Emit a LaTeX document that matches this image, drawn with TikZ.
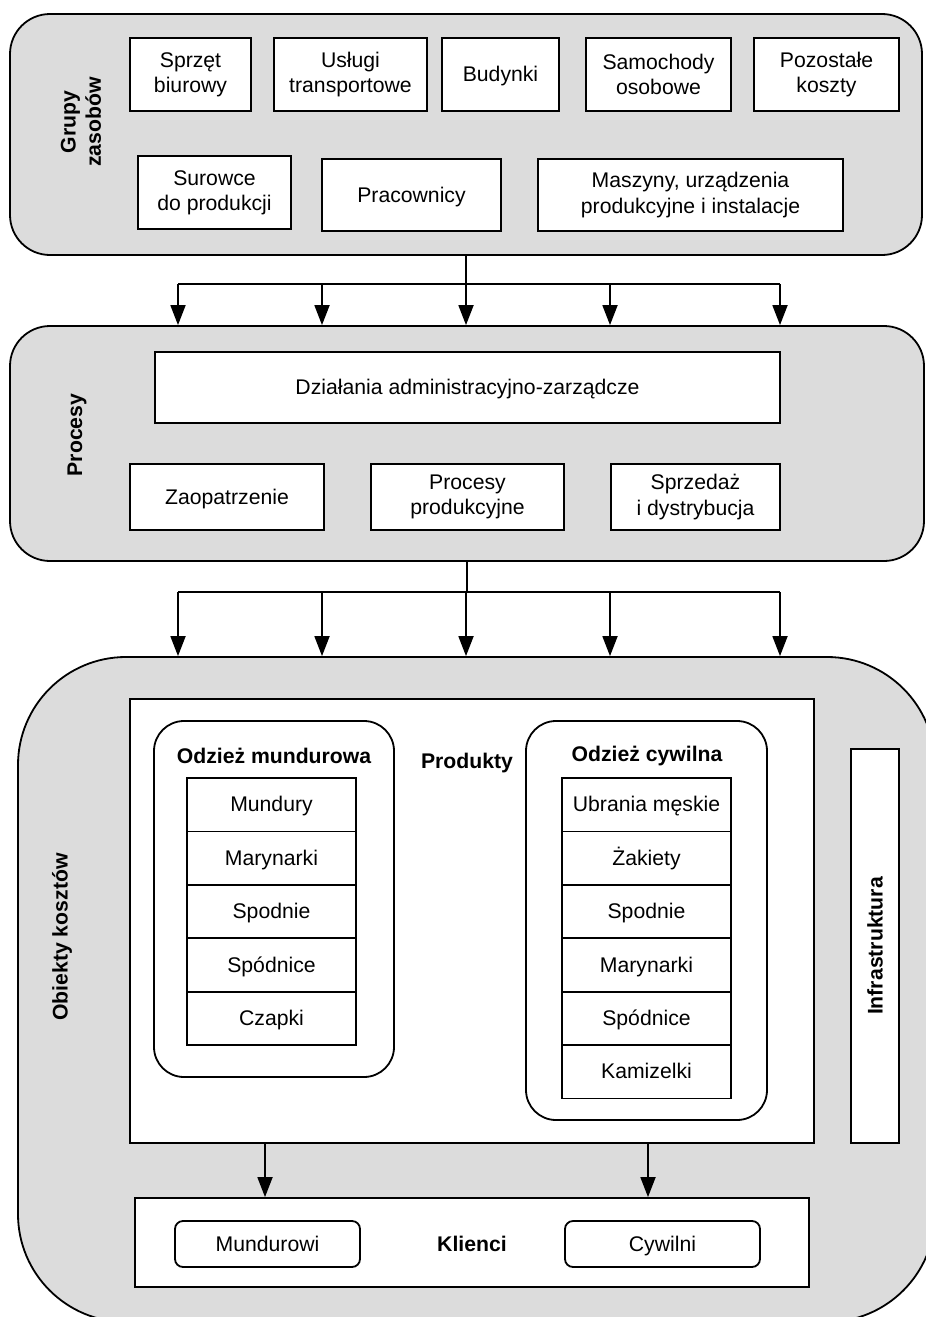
\documentclass[tikz,border=0pt]{standalone}
\usepackage{fontspec}
\setmainfont{Liberation Sans}
\usetikzlibrary{arrows.meta}
\definecolor{pgray}{RGB}{220,220,220}
\tikzstyle{pnl}=[draw, fill=pgray, rounded corners=20pt, inner sep=0]
\tikzstyle{bx}=[draw, fill=white, align=center, inner sep=0]
\tikzstyle{sl}=[text height=8.6pt, text depth=1.4pt]
\tikzstyle{rbx}=[bx, rounded corners=15pt]
\tikzstyle{lbl}=[font=\bfseries, align=center]
\tikzstyle{arr}=[-{Triangle[length=10pt,width=7.5pt]}]

\begin{document}
\fontsize{10.6}{12.6}\selectfont
\begin{tikzpicture}[x=0.5pt, y=-0.5pt, line width=0.9pt]
\clip (0,0) rectangle (926,1317);
% grupy zasobow
\node[pnl, minimum width=456pt, minimum height=120.5pt] (grupy) at (466,134.5) {};
\node[lbl, rotate=90] (tgrupy) at (81,122) {Grupy\\zasobów};
\node[bx, minimum width=60.5pt, minimum height=36.5pt] (sprzet) at (190.5,74.5) {Sprzęt\\biurowy};
\node[bx, minimum width=76.5pt, minimum height=36.5pt] (uslugi) at (350.5,74.5) {Usługi\\transportowe};
\node[bx, sl, minimum width=58.5pt, minimum height=36.5pt] (budynki) at (500.5,74.5) {Budynki};
\node[bx, minimum width=72.5pt, minimum height=36.5pt] (samochody) at (658.5,74.5) {Samochody\\osobowe};
\node[bx, minimum width=72.5pt, minimum height=36.5pt] (pozostale) at (826.5,74.5) {Pozostałe\\koszty};
\node[bx, minimum width=76.5pt, minimum height=36.5pt] (surowce) at (214.5,192.5) {Surowce\\do produkcji};
\node[bx, sl, minimum width=89.5pt, minimum height=36pt] (pracownicy) at (411.5,195) {Pracownicy};
\node[bx, minimum width=152.5pt, minimum height=36pt] (maszyny) at (690.5,195) {Maszyny, urządzenia\\produkcyjne i instalacje};

% procesy
\node[pnl, minimum width=457pt, minimum height=117.5pt] (procesy) at (467,443.5) {};
\node[lbl, rotate=90] (tprocesy) at (77,435) {Procesy};
\node[bx, sl, minimum width=312.5pt, minimum height=35.5pt] (dzialania) at (467.5,387.5) {Działania administracyjno-zarządcze};
\node[bx, sl, minimum width=97pt, minimum height=33pt] (zaopatrzenie) at (227,497) {Zaopatrzenie};
\node[bx, minimum width=96.5pt, minimum height=33pt] (produkcja) at (467.5,497) {Procesy\\produkcyjne};
\node[bx, minimum width=84.5pt, minimum height=33pt] (sprzedaz) at (695.5,497) {Sprzedaż\\i dystrybucja};

% obiekty kosztow
\node[pnl, rounded corners=54pt, minimum width=458.5pt, minimum height=332.5pt] (obiekty) at (476.5,989.5) {};
\node[lbl, rotate=90] (tobiekty) at (62,937) {Obiekty kosztów};
\node[bx, minimum width=342pt, minimum height=222pt] (produkty) at (472,921) {};
\node[lbl] (tprodukty) at (467,763) {Produkty};
\node[rbx, minimum width=120pt, minimum height=178pt] (mund) at (274,899) {};
\node[lbl] (tmund) at (274,756) {Odzież mundurowa};
\foreach \t [count=\i] in {Mundury,Marynarki,Spodnie,Spódnice,Czapki}
  \node[bx, sl, minimum width=84.5pt, minimum height=26.7pt] (mu\i) at (271.5,751.3+53.4*\i) {\t};
\node[rbx, minimum width=120.5pt, minimum height=199.5pt] (cyw) at (646.5,920.5) {};
\node[lbl] (tcyw) at (647,756) {Odzież cywilna};
\foreach \t [count=\i] in {Ubrania męskie,Żakiety,Spodnie,Marynarki,Spódnice,Kamizelki}
  \node[bx, sl, minimum width=84.5pt, minimum height=26.7pt] (cy\i) at (646.5,751.3+53.4*\i) {\t};
\node[bx, minimum width=24pt, minimum height=197pt] (infra) at (875,946) {};
\node[lbl, rotate=90] (tinfra) at (875,946) {Infrastruktura};
\node[bx, minimum width=337pt, minimum height=44.5pt] (klienci) at (472,1242.5) {};
\node[lbl, sl] (tklienci) at (472,1244) {Klienci};
\node[bx, sl, rounded corners=4pt, minimum width=92.5pt, minimum height=23pt] (mundurowi) at (267.5,1244) {Mundurowi};
\node[bx, sl, rounded corners=4pt, minimum width=97.5pt, minimum height=23pt] (cywilni) at (662.5,1244) {Cywilni};

% strzalki
\coordinate (j1) at (grupy.south |- 0,284);
\coordinate (j2) at (procesy.south |- 0,592);
\draw (grupy.south) -- (j1);
\draw (procesy.south) -- (j2);
\draw (j1 -| 178,0) -- (j1 -| 780,0);
\draw (j2 -| 178,0) -- (j2 -| 780,0);
\foreach \x in {178,322,466,610,780}{
  \draw[arr] (j1 -| \x,0) -- (procesy.north -| \x,0);
  \draw[arr] (j2 -| \x,0) -- (obiekty.north -| \x,0);
}
\foreach \x in {265,648}{\draw[arr] (produkty.south -| \x,0) -- (klienci.north -| \x,0);}
\end{tikzpicture}
\end{document}
